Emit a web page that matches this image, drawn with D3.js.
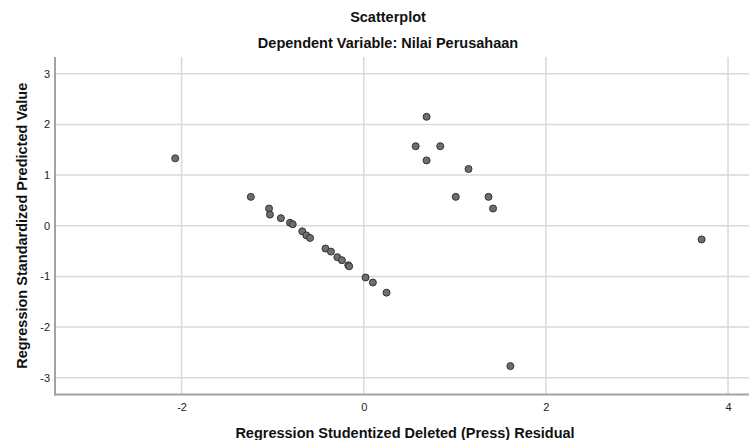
<!DOCTYPE html>
<html>
<head>
<meta charset="utf-8">
<script src="https://cdn.jsdelivr.net/npm/d3@7"></script>
<style>
  html, body { margin: 0; padding: 0; background: #fff; }
  svg { display: block; font-family: "Liberation Sans", Arial, sans-serif; }
</style>
</head>
<body>
<svg id="chart" width="750" height="440"></svg>
<script>
// ---- data ----
const residuals = [-2.07, -1.24, -1.04, -1.03, -0.91, -0.81, -0.78, -0.675, -0.63, -0.59,
                   -0.42, -0.36, -0.29, -0.24, -0.17, -0.16, 0.02, 0.10, 0.25,
                   0.57, 0.69, 0.84, 0.69, 1.15, 1.01, 1.37, 1.42, 3.71, 1.61];
const predicted = [1.33, 0.57, 0.34, 0.22, 0.15, 0.06, 0.03, -0.11, -0.19, -0.24,
                   -0.45, -0.51, -0.62, -0.68, -0.78, -0.80, -1.02, -1.12, -1.32,
                   1.57, 2.15, 1.57, 1.29, 1.12, 0.57, 0.57, 0.34, -0.27, -2.77];
const xTicks = [-2, 0, 2, 4];
const yTicks = [-3, -2, -1, 0, 1, 2, 3];
const titleText = "Scatterplot";
const subtitleText = "Dependent Variable: Nilai Perusahaan";
const xTitle = "Regression Studentized Deleted (Press) Residual";
const yTitle = "Regression Standardized Predicted Value";

// ---- layout ----
const svg = d3.select("#chart");
const pL = 55, pR = 749, pT = 57, pB = 394.5;

const x = d3.scaleLinear().domain([-3.39, 4.23]).range([pL, pR]);
const y = d3.scaleLinear().domain([-3.33, 3.33]).range([pB, pT]);
const fmt = d => String(d);

// gridlines
svg.append("g").selectAll("line").data(yTicks).join("line")
  .attr("x1", pL).attr("x2", pR)
  .attr("y1", d => y(d)).attr("y2", d => y(d))
  .attr("stroke", "#d9d9d9").attr("stroke-width", 1.5);
svg.append("g").selectAll("line").data(xTicks).join("line")
  .attr("y1", pT).attr("y2", pB)
  .attr("x1", d => x(d)).attr("x2", d => x(d))
  .attr("stroke", "#d9d9d9").attr("stroke-width", 1.5);

// axes
const xAxis = d3.axisBottom(x).tickValues(xTicks).tickSize(0).tickPadding(9).tickFormat(fmt);
const yAxis = d3.axisLeft(y).tickValues(yTicks).tickSize(0).tickPadding(5).tickFormat(fmt);

const gx = svg.append("g").attr("transform", `translate(0,${pB})`).call(xAxis);
const gy = svg.append("g").attr("transform", `translate(${pL},0)`).call(yAxis);
[gx, gy].forEach(g => {
  g.select(".domain").remove();
  g.selectAll("text").attr("fill", "#222").style("font-size", "11px")
   .style("font-family", "'Liberation Sans', Arial, sans-serif");
});

// axis lines
svg.append("line").attr("x1", pL).attr("x2", pL).attr("y1", pT).attr("y2", pB + 1)
  .attr("stroke", "#a3a3a3").attr("stroke-width", 2);
svg.append("line").attr("x1", pL - 1).attr("x2", pR).attr("y1", pB).attr("y2", pB)
  .attr("stroke", "#a3a3a3").attr("stroke-width", 2);

// points
svg.append("g").selectAll("circle").data(residuals.map((r, i) => [r, predicted[i]])).join("circle")
  .attr("cx", d => x(d[0])).attr("cy", d => y(d[1])).attr("r", 3.5)
  .attr("fill", "#6e6e6e").attr("stroke", "#333").attr("stroke-width", 1);

// titles
const cx = 388;
const tf = "14.5px";
svg.append("text").attr("x", cx).attr("y", 22).attr("text-anchor", "middle")
  .style("font-size", tf).style("font-weight", "bold").attr("fill", "#111").text(titleText);
svg.append("text").attr("x", cx).attr("y", 48).attr("text-anchor", "middle")
  .style("font-size", tf).style("font-weight", "bold").attr("fill", "#111").text(subtitleText);
svg.append("text").attr("x", 405).attr("y", 438).attr("text-anchor", "middle")
  .style("font-size", tf).style("font-weight", "bold").attr("fill", "#111").text(xTitle);
svg.append("text").attr("transform", `translate(27,${(pT + pB) / 2}) rotate(-90)`)
  .attr("text-anchor", "middle")
  .style("font-size", tf).style("font-weight", "bold").attr("fill", "#111").text(yTitle);
</script>
</body>
</html>
